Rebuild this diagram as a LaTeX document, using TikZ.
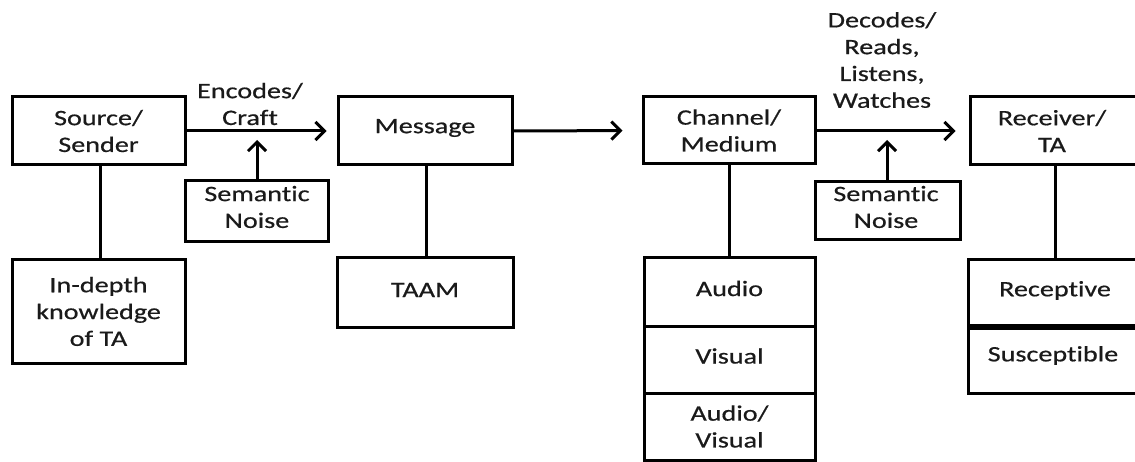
\documentclass[tikz,border=0pt]{standalone}
\usepackage{fontspec}
\setmainfont{Carlito}[FakeStretch=1.28, FakeBold=0.6, Ligatures=NoCommon]
\usetikzlibrary{arrows.meta}
\definecolor{txtc}{HTML}{1A1A1A}
\begin{document}
\begin{tikzpicture}[x=1pt,y=-1pt,
  box/.style={draw=black, line width=3pt, inner sep=0pt, align=center,
    font=\fontsize{22}{26.8}\selectfont, text=txtc},
  lbl/.style={align=center, inner sep=0pt, font=\fontsize{22}{26.8}\selectfont, text=txtc},
  conn/.style={line width=3pt},
  arr/.style={line width=3pt, -{Straight Barb[length=9pt,width=18pt]}}
]
\useasboundingbox (0,0) rectangle (1135,462);
% top row
\node[box, minimum width=173pt, minimum height=68pt] (src) at (98.5,131) {Source/\\Sender};
\node[box, minimum width=174pt, minimum height=68pt] (msg) at (425,131) {};
\node[lbl] (msgt) at (425,128) {Message};
\node[box, minimum width=172pt, minimum height=67pt] (chan) at (729,130.5) {Channel/\\Medium};
\node[box, minimum width=173pt, minimum height=68pt] (recv) at (1056.5,131) {};
\node[lbl] (recvt) at (1052,131) {Receiver/\\TA};
% noise boxes
\node[box, minimum width=143pt, minimum height=61pt] (sn1) at (256.5,211) {};
\node[lbl] (sn1t) at (257,207) {Semantic\\Noise};
\node[box, minimum width=145pt, minimum height=58pt] (sn2) at (887.5,211) {};
\node[lbl] (sn2t) at (886,207) {Semantic\\Noise};
% labels
\node[lbl] (enc) at (250,104) {Encodes/\\Craft};
\node[lbl] (dec) at (882,60) {Decodes/\\Reads,\\Listens,\\Watches};
% bottom row
\node[box, minimum width=173pt, minimum height=103pt] (know) at (98.5,311.5) {In-depth\\knowledge\\of TA};
\node[box, minimum width=176pt, minimum height=69pt] (taam) at (425,292.5) {};
\node[lbl] (taamt) at (425,290) {TAAM};
\node[box, minimum width=171pt, minimum height=68pt] (aud) at (729.5,292) {};
\node[lbl] (audt) at (729.5,288.5) {Audio};
\node[box, minimum width=171pt, minimum height=67pt] (vis) at (729.5,359.5) {};
\node[lbl] (vist) at (729.5,356) {Visual};
\node[box, minimum width=171pt, minimum height=67pt] (av) at (729.5,426.5) {Audio/\\Visual};
\node[box, minimum width=173pt, minimum height=65.5pt] (recp) at (1054.5,292.75) {};
\node[lbl] (recpt) at (1055,290.5) {Receptive};
\node[box, minimum width=173pt, minimum height=64.5pt] (susc) at (1054.5,360.75) {};
\node[lbl] (susct) at (1053,355.5) {Susceptible};
% arrow tips for noise
\coordinate (n1tip) at (257,140);
\coordinate (n2tip) at (887,140);
% connectors
\draw[arr, shorten >=10pt] (src.east) -- (msg.west);
\draw[arr, shorten >=19pt] (msg.east) -- (chan.west);
\draw[arr, shorten >=13pt] (chan.east |- src.east) -- (recv.west);
\draw[arr] (sn1.north -| n1tip) -- (n1tip);
\draw[arr] (sn2.north -| n2tip) -- (n2tip);
\draw[conn] ([xshift=1.5pt]src.south) -- ([xshift=1.5pt]know.north);
\draw[conn] ([xshift=1pt]msg.south) -- ([xshift=1pt]taam.north);
\draw[conn] (chan.south) -- (chan.south |- aud.north);
\draw[conn] ([xshift=-1.5pt]recv.south) -- ([xshift=-1.5pt]recv.south |- recp.north);
\end{tikzpicture}
\end{document}
